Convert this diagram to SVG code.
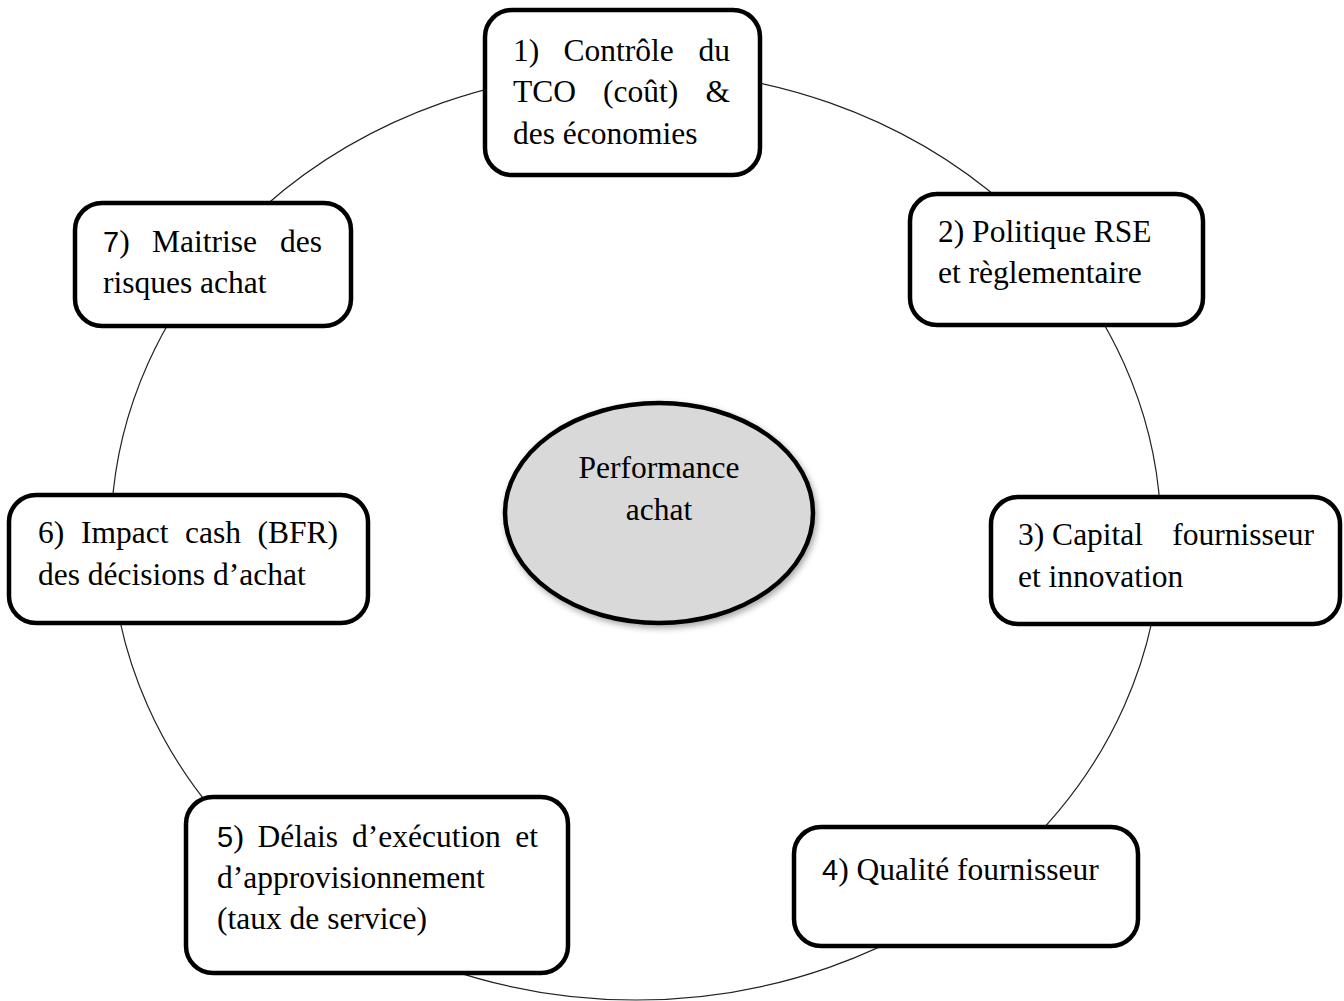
<svg xmlns="http://www.w3.org/2000/svg" width="1344" height="1001" viewBox="0 0 1344 1001">
  <style>
    .box { fill: #ffffff; stroke: #000000; stroke-width: 4.5; }
    .ring { fill: none; stroke: #222222; stroke-width: 1.2; }
    .hub { fill: #d9d9d9; stroke: #000000; stroke-width: 4.5; }
    .t { font-family: "Liberation Serif", "Times New Roman", serif; font-size: 31.5px; fill: #000000; }
    .c { text-anchor: middle; }
    .n { font-family: "Liberation Sans", Arial, sans-serif; font-size: 29px; }
  </style>
  <defs>
    <filter id="softShadow" x="-10%" y="-10%" width="125%" height="130%">
      <feDropShadow dx="2" dy="3" stdDeviation="3" flood-color="#000000" flood-opacity="0.35"/>
    </filter>
  </defs>

  <rect x="0" y="0" width="1344" height="1001" fill="#ffffff"/>

  <!-- connecting ring that links the seven levers -->
  <g id="connectors">
    <ellipse class="ring" cx="636" cy="535" rx="525" ry="465"/>
  </g>

  <!-- central hub -->
  <g id="hub">
    <ellipse class="hub" cx="659" cy="513" rx="154" ry="110" filter="url(#softShadow)"/>
    <text class="t c" x="659" y="478">Performance</text>
    <text class="t c" x="659" y="520">achat</text>
  </g>

  <!-- 1) cost control -->
  <g id="node1">
    <rect class="box" x="485" y="10" width="275" height="165" rx="27"/>
    <text class="t">
      <tspan x="513" y="61">1)</tspan>
      <tspan x="563.5" y="61">Contrôle</tspan>
      <tspan x="698.5" y="61">du</tspan>
      <tspan x="513" y="102">TCO</tspan>
      <tspan x="603" y="102">(coût)</tspan>
      <tspan x="705.5" y="102">&amp;</tspan>
      <tspan x="513" y="144">des économies</tspan>
    </text>
  </g>

  <!-- 2) CSR policy -->
  <g id="node2">
    <rect class="box" x="910" y="194" width="293" height="131" rx="27"/>
    <text class="t">
      <tspan x="938" y="242">2) Politique RSE</tspan>
      <tspan x="938" y="283">et règlementaire</tspan>
    </text>
  </g>

  <!-- 3) supplier capital -->
  <g id="node3">
    <rect class="box" x="991" y="497" width="349" height="127" rx="27"/>
    <text class="t">
      <tspan x="1018" y="545">3) Capital</tspan>
      <tspan x="1172.3" y="545">fournisseur</tspan>
      <tspan x="1018" y="587">et innovation</tspan>
    </text>
  </g>

  <!-- 4) supplier quality -->
  <g id="node4">
    <rect class="box" x="794" y="827" width="344" height="119" rx="27"/>
    <text class="t">
      <tspan x="822" y="880"><tspan class="n">4</tspan>) Qualité fournisseur</tspan>
    </text>
  </g>

  <!-- 5) lead times -->
  <g id="node5">
    <rect class="box" x="186" y="797" width="382" height="176" rx="27"/>
    <text class="t">
      <tspan x="217" y="847"><tspan class="n">5</tspan>)</tspan>
      <tspan x="257.5" y="847">Délais</tspan>
      <tspan x="352" y="847">d’exécution</tspan>
      <tspan x="515.3" y="847">et</tspan>
      <tspan x="217" y="888">d’approvisionnement</tspan>
      <tspan x="217" y="929">(taux de service)</tspan>
    </text>
  </g>

  <!-- 6) cash impact -->
  <g id="node6">
    <rect class="box" x="9" y="495" width="359" height="128" rx="27"/>
    <text class="t">
      <tspan x="38" y="543">6)</tspan>
      <tspan x="81" y="543">Impact</tspan>
      <tspan x="185" y="543">cash</tspan>
      <tspan x="257.5" y="543">(BFR)</tspan>
      <tspan x="38" y="585">des décisions d’achat</tspan>
    </text>
  </g>

  <!-- 7) risk management -->
  <g id="node7">
    <rect class="box" x="75" y="203" width="276" height="123" rx="27"/>
    <text class="t">
      <tspan x="103" y="252"><tspan class="n">7</tspan>)</tspan>
      <tspan x="152" y="252">Maitrise</tspan>
      <tspan x="280" y="252">des</tspan>
      <tspan x="103" y="293">risques achat</tspan>
    </text>
  </g>
</svg>
